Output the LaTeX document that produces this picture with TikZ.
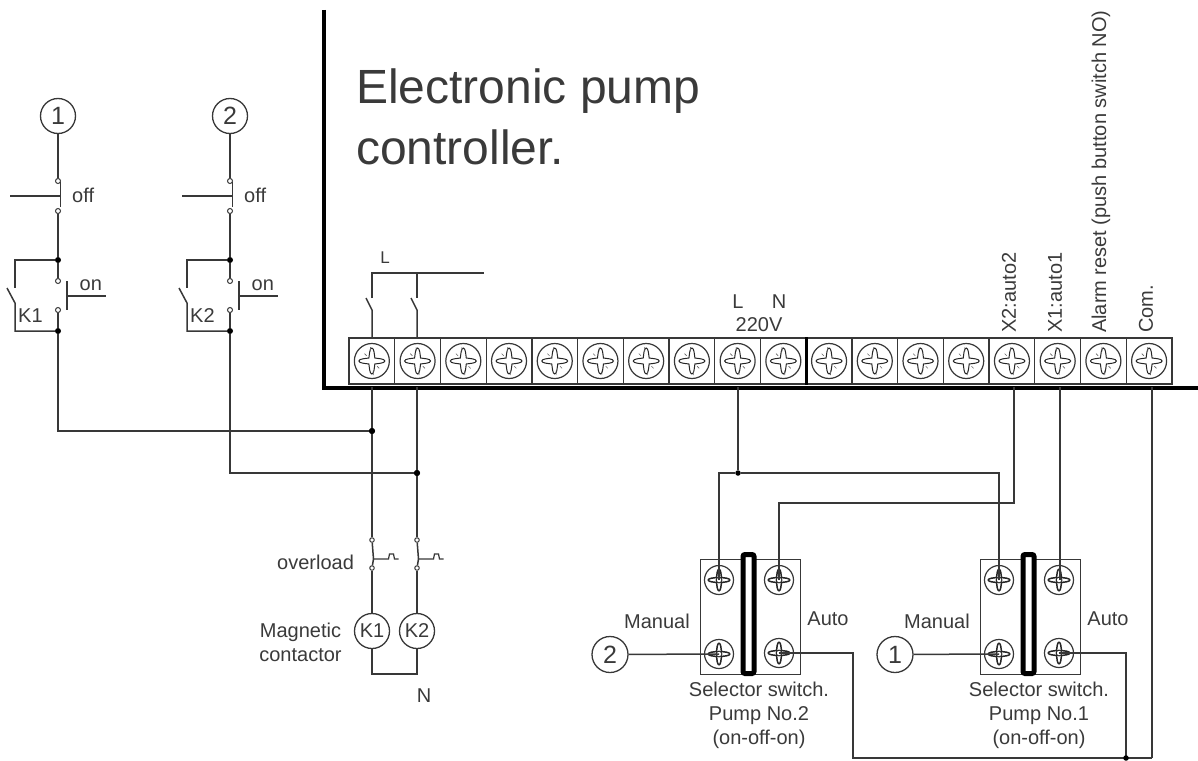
\documentclass[tikz,border=0pt]{standalone}
\usepackage{fontspec}
\setmainfont{Liberation Sans}
\definecolor{ink}{HTML}{383838}
\definecolor{txt}{HTML}{3A3A3A}
\newcommand{\starshape}{(.74,0) .. controls (.74,.13) and (.36,.14) .. (.17,.17)
    .. controls (.14,.36) and (.13,.74) .. (0,.74)
    .. controls (-.13,.74) and (-.14,.36) .. (-.17,.17)
    .. controls (-.36,.14) and (-.74,.13) .. (-.74,0)
    .. controls (-.74,-.13) and (-.36,-.14) .. (-.17,-.17)
    .. controls (-.14,-.36) and (-.13,-.74) .. (0,-.74)
    .. controls (.13,-.74) and (.14,-.36) .. (.17,-.17)
    .. controls (.36,-.14) and (.74,-.13) .. (.74,0) -- cycle}
\tikzset{
 wire/.style={draw=ink,line width=1.5pt,line join=miter},
 thinw/.style={draw=ink,line width=1.2pt},
 lab/.style={text=txt,font=\fontsize{20}{24}\selectfont,inner sep=0pt},
 ball/.style={circle,draw=ink,line width=1.3pt,minimum size=35pt,inner sep=0pt,fill=white,text=txt,font=\fontsize{25}{28}\selectfont},
 coil/.style={ball,font=\fontsize{20}{22}\selectfont},
 contact/.style={circle,draw=ink,line width=1pt,minimum size=5pt,inner sep=0pt,fill=white},
 dot/.style={circle,fill=black,minimum size=6pt,inner sep=0pt},
 termbox/.style={draw=ink,line width=1.3pt,minimum width=45.72pt,minimum height=46pt,inner sep=0pt,fill=white},
 selbox/.style={draw=ink,line width=1.2pt,minimum width=100pt,minimum height=115pt,inner sep=0pt,fill=white},
 selbar/.style={draw=black,line width=5pt,rounded corners=2pt,minimum width=11pt,minimum height=119pt,inner sep=0pt,fill=white},
 pics/screw/.style={code={
   \draw[ink,line width=1.2pt] (0,0) circle (1);
   \draw[black!85,line width=1pt] \starshape;
   \draw[black!60,line width=.6pt] (.3,.3)--(.42,.42) (-.3,-.3)--(-.42,-.42) (.08,.8)--(.08,.55) (-.08,-.8)--(-.08,-.55);
 }},
 pics/smallscrew/.style={code={
   \draw[ink,line width=1.2pt] (0,0) circle (1);
   \draw[black!85,line width=1.5pt] \starshape;
   \draw[black!85,line width=1pt] (0,0) circle (.2);
 }},
}
\begin{document}
\begin{tikzpicture}[x=1pt,y=-1pt]
\useasboundingbox (0,0) rectangle (1198,760);
% terminals
\foreach \i in {1,...,18}{
  \node[termbox] (t\i) at ({349+45.72*(\i-.5)},361) {};
  \pic[scale=17.5] at (t\i) {screw};
}
\draw[black,line width=3pt] (t10.north east) -- (t10.south east);
% controller frame
\coordinate (fa) at (324,10);
\coordinate (fb) at (324,387.5);
\coordinate (fc) at (1198,387.5);
\draw[black,line width=4pt,line join=miter] (fa) -- (fb) -- (fc);
\node[text=txt,font=\fontsize{48}{61}\selectfont,align=left,anchor=north west,inner sep=0pt] (title) at (356,69) {Electronic pump\\controller.};
% supply L contacts
\coordinate (la) at (372,273);
\coordinate (lb) at (417,273);
\coordinate (lc) at (484,273);
\coordinate (s1a) at (372,298);
\coordinate (s1b) at (372,310);
\coordinate (s1c) at (366,298);
\coordinate (s2a) at (417,298);
\coordinate (s2b) at (417,310);
\coordinate (s2c) at (411,298);
\draw[wire] (s1a) -- (la) -- (lc);
\draw[wire] (lb) -- (s2a);
\draw[wire] (s1c) -- (s1b) -- (s1b |- t1.north);
\draw[wire] (s2c) -- (s2b) -- (s2b |- t2.north);
\node[lab,font=\fontsize{17}{20}\selectfont] (ll) at (385,258) {L};
% control circuits
\foreach \n/\x/\y in {1/58/431,2/230/473}{
  \node[ball] (c\n) at (\x,116) {\n};
  \node[contact] (a\n) at (\x,181) {};
  \node[contact] (b\n) at (\x,211) {};
  \node[dot] (d\n) at (\x,260) {};
  \node[contact] (e\n) at (\x,281) {};
  \node[contact] (f\n) at (\x,310) {};
  \node[dot] (g\n) at (\x,331) {};
  \node[dot] (j\n) at ({\n==1?372:417},\y) {};
  \draw[wire] (c\n) -- (a\n);
  \draw[wire] (b\n) -- (d\n) -- (e\n);
  \draw[wire] (f\n) -- (g\n);
  \draw[wire] (g\n) |- (j\n);
  % off button
  \coordinate (ob\n) at (\x+2.5,196);
  \coordinate (oh\n) at (\x-48,196);
  \draw[wire] (\x+2.5,182) -- (\x+2.5,207);
  \draw[wire] (oh\n) -- (ob\n);
  \node[lab,anchor=west] (off\n) at (\x+14,195.5) {off};
  % on button
  \coordinate (nb\n) at (\x+9,296);
  \coordinate (nh\n) at (\x+48,296);
  \draw[wire] (\x+9,281) -- (\x+9,310);
  \draw[wire] (nb\n) -- (nh\n);
  \node[lab,anchor=west] (on\n) at (\x+21.5,285) {on};
  % holding contact
  \coordinate (ka\n) at (\x-43,260);
  \coordinate (kb\n) at (\x-43,288);
  \coordinate (kc\n) at (\x-51,288);
  \coordinate (kd\n) at (\x-43,303);
  \coordinate (ke\n) at (\x-43,331);
  \draw[wire] (d\n) -- (ka\n) -- (kb\n);
  \draw[wire] (kc\n) -- (kd\n) -- (ke\n) -- (g\n);
  \node[lab,anchor=west] (kl\n) at (\x-40,316) {K\n};
}
% coils and overload
\node[coil] (k1) at (372,631) {K1};
\node[coil] (k2) at (417,631) {K2};
\foreach \n/\x in {1/372,2/417}{
  \node[contact,minimum size=4.5pt] (oa\n) at (\x,540) {};
  \node[contact,minimum size=4.5pt] (oc\n) at (\x,568) {};
  \coordinate (ov\n) at (\x+1.5,559);
  \draw[wire] (\x,387) -- (oa\n);
  \draw[wire] (oa\n) -- (ov\n) -- (oc\n);
  \draw[wire] (oc\n) -- (k\n);
  \draw[thinw] (ov\n) -- ++(15,0) -- ++(1,-5) -- ++(4,0) -- ++(1,5) -- ++(4,0);
}
\node[dot] at (j1) {};
\node[dot] at (j2) {};
\coordinate (nn) at (395,674);
\draw[wire] (k1) |- (nn) -| (k2);
\node[lab] (nl) at (424,696) {N};
\node[lab,anchor=west] (ovl) at (277,562) {overload};
\node[lab,align=center,anchor=center] (mag) at (300.5,642) {Magnetic\\contactor};
% selectors
\foreach \n/\x/\lab/\cx in {2/700/2/610,1/980/1/895}{
  \node[selbox,anchor=north west] (box\n) at (\x,559) {};
  \node[selbar] (bar\n) at (\x+48.5,614) {};
  \pic[scale=14.5] at (\x+19,580) {smallscrew};
  \pic[scale=14.5] at (\x+79,580) {smallscrew};
  \pic[scale=14.5] at (\x+19,654) {smallscrew};
  \pic[scale=14.5] at (\x+79,653) {smallscrew};
  \coordinate (ul\n) at (\x+19,580);
  \coordinate (ur\n) at (\x+79,580);
  \coordinate (ml\n) at (\x+19,654);
  \coordinate (ma\n) at (\x+79,653);
  \node[ball,minimum size=36pt] (cc\n) at (\cx,654.5) {\lab};
  \draw[wire] (cc\n) -- (ml\n);
  \node[lab,anchor=center] (man\n) at (\x-43,621) {Manual};
  \node[lab,anchor=center] (aut\n) at (\x+128,619) {Auto};
  \node[lab,align=center,anchor=north] (cap\n) at (\x+59,682) {Selector switch.\\Pump No.\lab\\(on-off-on)};
}
% controller wiring
\node[dot,minimum size=5.5pt] (j9) at (738,473) {};
\coordinate (bt) at (738,387);
\coordinate (x2) at (1014,387);
\coordinate (x1) at (1060,387);
\coordinate (cm) at (1152,387);
\draw[wire] (bt) -- (j9);
\draw[wire] (ul2) |- (j9);
\draw[wire] (ul1) |- (j9);
\coordinate (y2) at (1014,503);
\draw[wire] (x2) -- (y2) -| (ur2);
\draw[wire] (x1) -- (x1 |- ur1);
\coordinate (bb) at (1152,758);
\draw[wire] (cm) -- (bb);
\coordinate (by) at (853,758);
\coordinate (bz) at (1126,758);
\draw[wire] (ma2) -| (by) -- (bb);
\draw[wire] (ma1) -| (bz);
\node[dot,minimum size=5.5pt] (jb) at (bz) {};
% top labels
\node[lab] (l220a) at (738,302) {L};
\node[lab] (l220b) at (779,302) {N};
\node[lab] (v220) at (759,325) {220V};
\node[lab,rotate=90,anchor=west] (lx2) at (1009,333) {X2:auto2};
\node[lab,rotate=90,anchor=west] (lx1) at (1055,333) {X1:auto1};
\node[lab,rotate=90,anchor=west] (lal) at (1101,333) {Alarm reset (push button switch NO)};
\node[lab,rotate=90,anchor=west] (lcm) at (1146,333) {Com.};
\end{tikzpicture}
\end{document}
